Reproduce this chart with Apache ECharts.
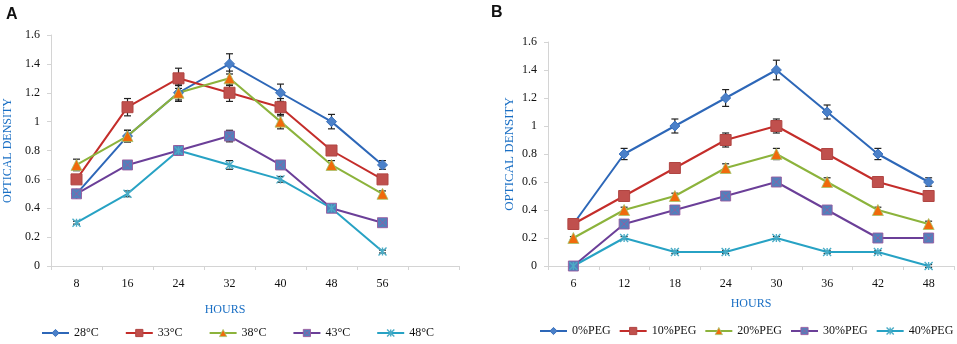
<!DOCTYPE html>
<html>
<head>
<meta charset="utf-8">
<script src="https://cdn.jsdelivr.net/npm/echarts@6/dist/echarts.min.js"></script>
<style>
  html, body { margin: 0; padding: 0; background: #fff; }
  #chart { width: 957px; height: 344px; }
</style>
</head>
<body>
<div id="chart"></div>
<script>
// panel A: temperature
var hoursA = ["8", "16", "24", "32", "40", "48", "56", ""];
var namesA = ["28°C", "33°C", "38°C", "43°C", "48°C"];
var odA28 = [0.5, 0.9, 1.2, 1.4, 1.2, 1.0, 0.7];
var odA33 = [0.6, 1.1, 1.3, 1.2, 1.1, 0.8, 0.6];
var odA38 = [0.7, 0.9, 1.2, 1.3, 1.0, 0.7, 0.5];
var odA43 = [0.5, 0.7, 0.8, 0.9, 0.7, 0.4, 0.3];
var odA48 = [0.3, 0.5, 0.8, 0.7, 0.6, 0.4, 0.1];
var errA28 = [0.01, 0.04, 0.05, 0.07, 0.06, 0.05, 0.03];
var errA33 = [0.02, 0.06, 0.07, 0.06, 0.06, 0.03, 0.02];
var errA38 = [0.04, 0.04, 0.06, 0.05, 0.05, 0.03, 0.02];
var errA43 = [0.01, 0.03, 0.03, 0.04, 0.03, 0.01, 0.01];
var errA48 = [0.01, 0.02, 0.03, 0.03, 0.02, 0.01, 0.01];

// panel B: PEG
var hoursB = ["6", "12", "18", "24", "30", "36", "42", "48"];
var namesB = ["0%PEG", "10%PEG", "20%PEG", "30%PEG", "40%PEG"];
var odB0 = [0.3, 0.8, 1.0, 1.2, 1.4, 1.1, 0.8, 0.6];
var odB10 = [0.3, 0.5, 0.7, 0.9, 1.0, 0.8, 0.6, 0.5];
var odB20 = [0.2, 0.4, 0.5, 0.7, 0.8, 0.6, 0.4, 0.3];
var odB30 = [0, 0.3, 0.4, 0.5, 0.6, 0.4, 0.2, 0.2];
var odB40 = [0, 0.2, 0.1, 0.1, 0.2, 0.1, 0.1, 0];
var errB0 = [0.01, 0.04, 0.05, 0.06, 0.07, 0.05, 0.04, 0.03];
var errB10 = [0.01, 0.01, 0.02, 0.05, 0.05, 0.03, 0.02, 0.01];
var errB20 = [0.01, 0.02, 0.02, 0.03, 0.04, 0.03, 0.02, 0.02];
var errB30 = [0.01, 0.01, 0.01, 0.01, 0.02, 0.01, 0.01, 0.01];
var errB40 = [0, 0.01, 0.01, 0.01, 0.01, 0.01, 0.01, 0.01];

var serif = "Liberation Serif";
var blueText = "#1a6fc4";

// one style per series position: line colour, marker
var styles = [
  { line: "#2d67b8", symbol: "diamond", size: 10, fill: "#4a80c9", border: "#3a70bb", bw: 1 },
  { line: "#c42d2a", symbol: "rect", size: 11, fill: "#c0504d", border: "#b04542", bw: 1 },
  { line: "#8cb33c", symbol: "triangle", size: 11, fill: "#f06a0c", border: "#a6c46a", bw: 0.8 },
  { line: "#6b3f98", symbol: "path://M0 0H10V10H0ZM1.5 1.5L8.5 8.5M8.5 1.5L1.5 8.5", size: 10, fill: "#4f81bd", border: "#9a5a9e", bw: 0.9 },
  { line: "#27a2c4", symbol: "path://M0 0L10 10M10 0L0 10M5 0V10", size: 8, fill: "#4bacc6", border: "#4bacc6", bw: 1.4 }
];

function lineSeries(name, data, i, axis) {
  var s = styles[i];
  return {
    name: name,
    type: "line",
    xAxisIndex: axis,
    yAxisIndex: axis,
    data: data,
    symbol: s.symbol,
    symbolSize: s.size,
    showAllSymbol: true,
    z: 3,
    lineStyle: { color: s.line, width: 2 },
    itemStyle: { color: s.fill, borderColor: s.border, borderWidth: s.bw },
    emphasis: { disabled: true }
  };
}

function errorSeries(data, err, axis) {
  var rows = [];
  for (var k = 0; k < data.length; k++) {
    if (err[k] > 0) rows.push([k, data[k] - err[k], data[k] + err[k]]);
  }
  return {
    type: "custom",
    xAxisIndex: axis,
    yAxisIndex: axis,
    data: rows,
    z: 2,
    silent: true,
    renderItem: function (params, api) {
      var lo = api.coord([api.value(0), api.value(1)]);
      var hi = api.coord([api.value(0), api.value(2)]);
      var w = 3.5;
      var st = { stroke: "#222", lineWidth: 1.2 };
      return {
        type: "group",
        children: [
          { type: "line", shape: { x1: lo[0], y1: lo[1], x2: hi[0], y2: hi[1] }, style: st },
          { type: "line", shape: { x1: lo[0] - w, y1: lo[1], x2: lo[0] + w, y2: lo[1] }, style: st },
          { type: "line", shape: { x1: hi[0] - w, y1: hi[1], x2: hi[0] + w, y2: hi[1] }, style: st }
        ]
      };
    }
  };
}

// legend entries keep the marker colours of their series
function legendData(names) {
  return names.map(function (n, k) {
    var s = styles[k];
    return {
      name: n,
      itemStyle: { color: s.fill, borderColor: s.border, borderWidth: s.bw },
      lineStyle: { color: s.line, width: 2 }
    };
  });
}

function xAxis(cats, grid, pad) {
  return {
    type: "category",
    gridIndex: grid,
    data: cats,
    boundaryGap: true,
    name: "HOURS",
    nameLocation: "middle",
    nameGap: grid === 0 ? 38 : 32,
    nameTextStyle: { fontFamily: serif, fontSize: 12, color: blueText, padding: pad },
    axisLine: { lineStyle: { color: "#d4d4d4", width: 1 } },
    axisTick: { show: true, length: 4, lineStyle: { color: "#d4d4d4" } },
    axisLabel: { fontFamily: serif, fontSize: 12, color: "#111", margin: 12 },
    splitLine: { show: false }
  };
}

function yAxis(grid, gap, size) {
  return {
    type: "value",
    gridIndex: grid,
    min: 0,
    max: 1.6,
    interval: 0.2,
    name: "OPTICAL DENSITY",
    nameLocation: "middle",
    nameGap: gap,
    nameTextStyle: { fontFamily: serif, fontSize: size, color: blueText },
    axisLine: { show: true, lineStyle: { color: "#d4d4d4", width: 1 } },
    axisTick: { show: true, length: 4, lineStyle: { color: "#d4d4d4" } },
    axisLabel: { fontFamily: serif, fontSize: 12, color: "#111", margin: 11 },
    splitLine: { show: false }
  };
}

var seriesA = [odA28, odA33, odA38, odA43, odA48];
var errsA = [errA28, errA33, errA38, errA43, errA48];
var seriesB = [odB0, odB10, odB20, odB30, odB40];
var errsB = [errB0, errB10, errB20, errB30, errB40];

var series = [];
for (var i = 0; i < 5; i++) series.push(lineSeries(namesA[i], seriesA[i], i, 0));
for (var j = 0; j < 5; j++) series.push(lineSeries(namesB[j], seriesB[j], j, 1));
for (var a = 0; a < 5; a++) series.push(errorSeries(seriesA[a], errsA[a], 0));
for (var b = 0; b < 5; b++) series.push(errorSeries(seriesB[b], errsB[b], 1));

var legendText = { fontFamily: serif, fontSize: 12, color: "#111" };

var option = {
  backgroundColor: "#fff",
  animation: false,
  title: [
    { text: "A", left: 1, top: 2, textStyle: { fontFamily: "Liberation Sans", fontSize: 16, fontWeight: "bold", color: "#111" } },
    { text: "B", left: 486, top: 0, textStyle: { fontFamily: "Liberation Sans", fontSize: 16, fontWeight: "bold", color: "#111" } }
  ],
  legend: [
    {
      data: legendData(namesA),
      left: 41,
      top: 327,
      width: 420,
      padding: 0,
      itemWidth: 27,
      itemHeight: 9,
      itemGap: 26,
      textStyle: legendText
    },
    {
      data: legendData(namesB),
      left: 539,
      top: 325,
      width: 418,
      padding: 0,
      itemWidth: 27,
      itemHeight: 9,
      itemGap: 8,
      textStyle: legendText
    }
  ],
  grid: [
    { left: 51, top: 35, width: 408, height: 231 },
    { left: 548, top: 42, width: 406, height: 224 }
  ],
  xAxis: [xAxis(hoursA, 0, [0, 60, 0, 0]), xAxis(hoursB, 1, [0, 0, 0, 0])],
  yAxis: [yAxis(0, 37, 12), yAxis(1, 32, 13)],
  series: series
};

var chart = echarts.init(document.getElementById("chart"), null, { renderer: "canvas" });
chart.setOption(option);
</script>
</body>
</html>
